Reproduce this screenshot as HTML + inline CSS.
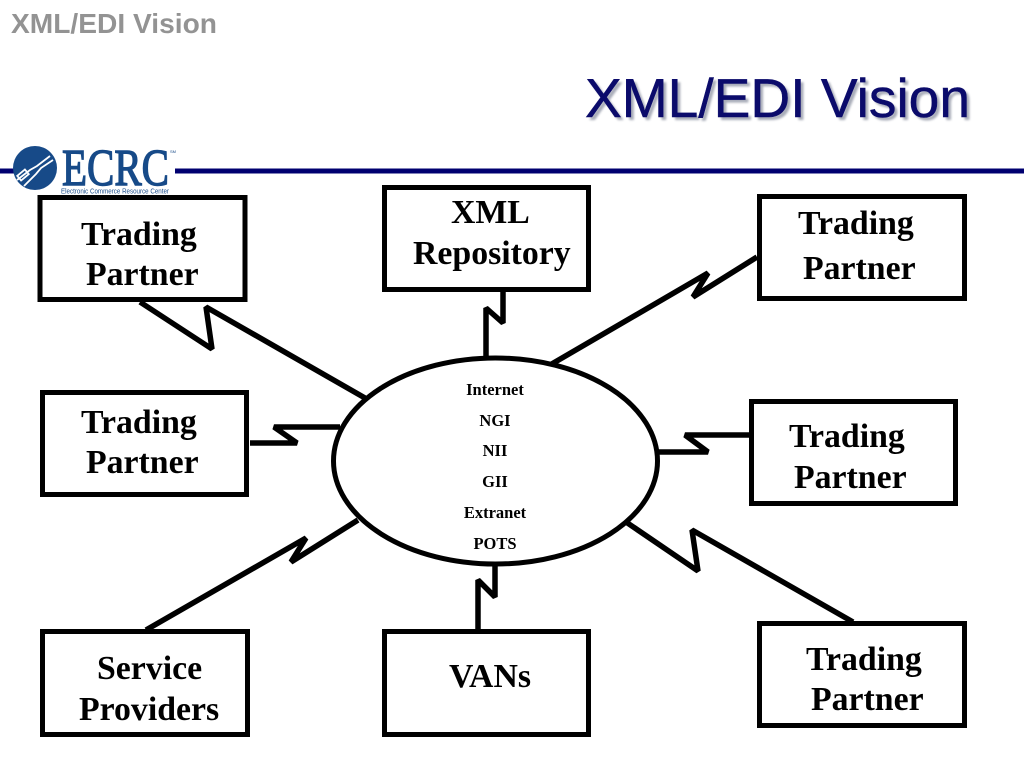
<!DOCTYPE html>
<html>
<head>
<meta charset="utf-8">
<style>
html,body{margin:0;padding:0;background:#fff;width:1024px;height:768px;overflow:hidden}
svg{display:block}
.b{fill:#fff;stroke:#000;stroke-width:5}
.c{fill:none;stroke:#000;stroke-width:5.500;stroke-linejoin:miter;stroke-miterlimit:2}
.t{font-family:"Liberation Serif",serif;font-weight:bold;font-size:33.800px;fill:#000}
.s{font-family:"Liberation Serif",serif;font-weight:bold;font-size:16.500px;fill:#000;text-anchor:middle}
</style>
</head>
<body>
<svg width="1024" height="768" viewBox="0 0 1024 768" xmlns="http://www.w3.org/2000/svg">
  <text x="11" y="33" font-family="Liberation Sans,sans-serif" font-weight="bold" font-size="28" fill="#939393" textLength="206" lengthAdjust="spacingAndGlyphs">XML/EDI Vision</text>
  <text x="588" y="120" font-family="Liberation Sans,sans-serif" font-size="55" fill="#a8acb8" style="filter:blur(1px)" textLength="385" lengthAdjust="spacingAndGlyphs">XML/EDI Vision</text>
  <text x="585" y="117" font-family="Liberation Sans,sans-serif" font-size="55" fill="#0b0b6b" stroke="#0b0b6b" stroke-width="0.500" textLength="385" lengthAdjust="spacingAndGlyphs">XML/EDI Vision</text>

  <rect x="0" y="168.500" width="14" height="5" fill="#000070"/>
  <rect x="175" y="168.500" width="849" height="5" fill="#000070"/>

  <circle cx="35" cy="168" r="22" fill="#174a88"/>
  <path d="M17 180 L30 170 L37 166 L50 156 M24 186 L36 174 L41 168 L53 160" fill="none" stroke="#fff" stroke-width="1.800"/>
  <rect x="18" y="172" width="10" height="6" transform="rotate(-40 23 175)" fill="none" stroke="#fff" stroke-width="1.800"/>
  <text x="62" y="185" font-family="Liberation Serif,serif" font-size="52" fill="#174a88" stroke="#174a88" stroke-width="1.400" textLength="107" lengthAdjust="spacingAndGlyphs">ECRC</text>
  <text x="170" y="153" font-family="Liberation Sans,sans-serif" font-size="4" fill="#174a88">SM</text>
  <text x="61" y="193.500" font-family="Liberation Sans,sans-serif" font-size="7" fill="#174a88" textLength="108" lengthAdjust="spacingAndGlyphs">Electronic Commerce Resource Center</text>

  <polyline class="c" points="140,302 212,349 206,307 365,398"/>
  <polyline class="c" points="250,443 297,443 274,427 340,427"/>
  <polyline class="c" points="503,292 503,323 486,308 486,358"/>
  <polyline class="c" points="757,257 693,297 708,273 550,365"/>
  <polyline class="c" points="658,452 708,452 685,435 750,435"/>
  <polyline class="c" points="626,522 698,571 692,530 853,622"/>
  <polyline class="c" points="146,630 306,538 291,562 358,520"/>
  <polyline class="c" points="478,630 478,580 495,597 495,565"/>

  <rect class="b" x="40" y="197.500" width="205" height="102"/>
  <rect class="b" x="384.500" y="187.500" width="204" height="102"/>
  <rect class="b" x="759.500" y="196.500" width="205" height="102"/>
  <rect class="b" x="42.500" y="392.500" width="204" height="102"/>
  <rect class="b" x="751.500" y="401.500" width="204" height="102"/>
  <rect class="b" x="42.500" y="631.500" width="205" height="103"/>
  <rect class="b" x="384.500" y="631.500" width="204" height="103"/>
  <rect class="b" x="759.500" y="623.500" width="205" height="102"/>

  <ellipse cx="495.500" cy="461" rx="162" ry="103" fill="#fff" stroke="#000" stroke-width="5"/>

  <text class="t" x="81" y="245">Trading</text>
  <text class="t" x="86" y="285">Partner</text>
  <text class="t" x="451" y="223">XML</text>
  <text class="t" x="413" y="264">Repository</text>
  <text class="t" x="798" y="234">Trading</text>
  <text class="t" x="803" y="279">Partner</text>
  <text class="t" x="81" y="433">Trading</text>
  <text class="t" x="86" y="473">Partner</text>
  <text class="t" x="789" y="447">Trading</text>
  <text class="t" x="794" y="488">Partner</text>
  <text class="t" x="97" y="679">Service</text>
  <text class="t" x="79" y="720">Providers</text>
  <text class="t" x="449" y="687">VANs</text>
  <text class="t" x="806" y="670">Trading</text>
  <text class="t" x="811" y="710">Partner</text>

  <text class="s" x="495" y="395">Internet</text>
  <text class="s" x="495" y="426">NGI</text>
  <text class="s" x="495" y="456">NII</text>
  <text class="s" x="495" y="487">GII</text>
  <text class="s" x="495" y="518">Extranet</text>
  <text class="s" x="495" y="549">POTS</text>
</svg>
</body>
</html>
